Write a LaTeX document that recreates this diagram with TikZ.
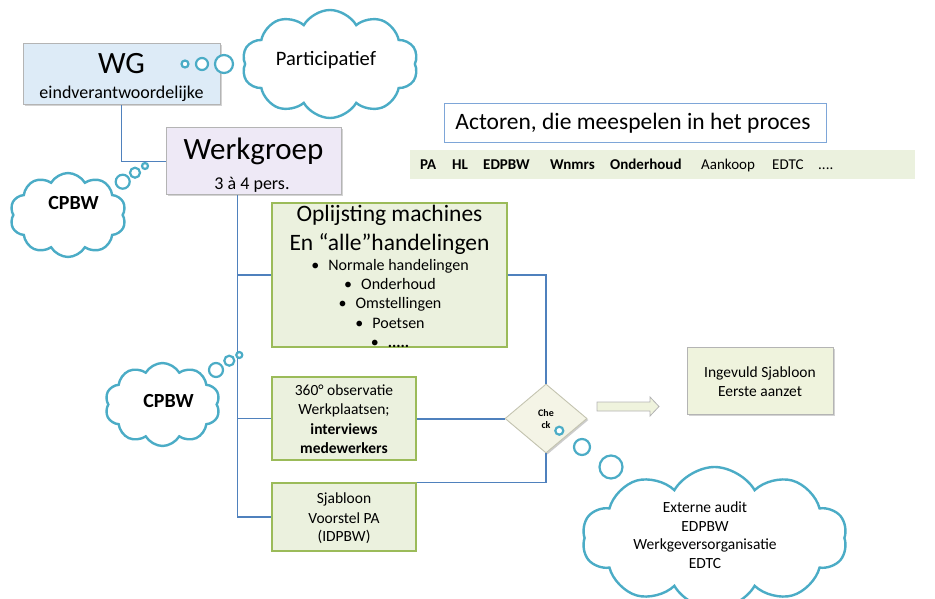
\documentclass[tikz,border=0pt]{standalone}
\usepackage{fontspec}
\setmainfont{Carlito}
\usetikzlibrary{shapes.geometric,shapes.symbols,shadows,calc}
\definecolor{conncol}{HTML}{4F81BD}
\definecolor{cloudcol}{HTML}{4BACC6}
\definecolor{wgfill}{HTML}{DDEBF7}
\definecolor{wgrfill}{HTML}{EEE9F6}
\definecolor{grfill}{HTML}{EBF1DE}
\definecolor{grdraw}{HTML}{9BBB59}
\definecolor{actdraw}{HTML}{7EA6D8}
\definecolor{boxgray}{HTML}{B4B4B4}
\definecolor{creamfill}{HTML}{EFF3DD}
\definecolor{dmfill}{HTML}{F4F4E6}
\definecolor{dmdraw}{HTML}{C4C4B0}
\newcommand\myfs[1]{\fontsize{#1}{#1}\selectfont}
\begin{document}
\begin{tikzpicture}[x=1pt,y=-1pt,
  conn/.style={draw=conncol, line width=1.1pt},
  cloudst/.style={cloud, cloud puffs=10, cloud puff arc=120, cloud ignores aspect, draw=cloudcol, line width=2.4pt, fill=white, inner sep=0pt},
  bub/.style={circle, draw=cloudcol, line width=2.2pt, fill=white, inner sep=0pt},
  gbox/.style={draw=grdraw, line width=1.1pt, fill=grfill, inner sep=0pt},
  bevbox/.style={draw=boxgray, line width=1pt, inner sep=0pt, drop shadow={opacity=0.35, shadow xshift=1.5pt, shadow yshift=-1.5pt}},
  txt/.style={inner sep=0pt, anchor=base},
  txtw/.style={inner sep=0pt, anchor=base west, font=\myfs{15}}]
\useasboundingbox (0,0) rectangle (935,599);

% boxes
\node[bevbox, fill=wgfill, minimum width=197pt, minimum height=61pt] (wg) at (121.5,74.5) {};
\node[bevbox, fill=wgrfill, minimum width=175pt, minimum height=67pt] (wgr) at (253.5,161.5) {};
\node[gbox, minimum width=235pt, minimum height=144pt] (opl) at (389.5,275) {};
\node[gbox, minimum width=144pt, minimum height=83pt] (obs) at (344,418.5) {};
\node[gbox, minimum width=144pt, minimum height=68pt] (sja) at (344,517) {};
\node[bevbox, fill=creamfill, minimum width=146pt, minimum height=67pt] (ing) at (760,380.5) {};
\node[draw=actdraw, line width=1pt, fill=white, minimum width=382pt, minimum height=39pt, inner sep=0pt] (act) at (635,123.5) {};
\node[fill=grfill, minimum width=505pt, minimum height=29pt, inner sep=0pt] (band) at (662.5,164.5) {};
\node[diamond, draw=dmdraw, line width=0.9pt, fill=dmfill, minimum width=82pt, minimum height=69pt, inner sep=0pt, drop shadow={opacity=0.4, shadow xshift=1.5pt, shadow yshift=-1.5pt}] (chk) at (546,418.5) {};

% connectors
\draw[conn] (wg.south) |- (wgr.west);
\draw[conn] ([xshift=-16pt]wgr.south) |- (opl.west);
\draw[conn] ([xshift=-16pt]wgr.south) |- (obs.west);
\draw[conn] ([xshift=-16pt]wgr.south) |- (sja.west);
\draw[conn] (opl.east) -| (chk.north);
\draw[conn, line width=2pt] (obs.east) -- (chk.west);
\draw[conn] (sja.north east) -| (chk.south);

% block arrow
\draw[draw=boxgray, line width=0.8pt, fill=creamfill] (597,402) -- (650,402) -- (650,397) -- (659,406.5) -- (650,416) -- (650,411) -- (597,411) -- cycle;

% clouds
\node[cloudst, minimum width=176pt, minimum height=108pt] (cpart) at (330,64) {};
\node[cloudst, minimum width=116pt, minimum height=84pt] (ccp1) at (68,215) {};
\node[cloudst, minimum width=115pt, minimum height=83pt] (ccp2) at (162.5,404.5) {};
\node[cloudst, minimum width=265pt, minimum height=142pt] (cext) at (714.5,538) {};

% thought bubbles
\node[bub, minimum size=7pt] (pb1) at (185,64) {};
\node[bub, minimum size=12pt] (pb2) at (202,64) {};
\node[bub, minimum size=18pt] (pb3) at (224,64) {};
\node[bub, minimum size=14pt] (ab1) at (122.7,181.7) {};
\node[bub, minimum size=10pt] (ab2) at (135,172.7) {};
\node[bub, minimum size=6pt] (ab3) at (145,166) {};
\node[bub, minimum size=14pt] (bb1) at (216,370) {};
\node[bub, minimum size=10pt] (bb2) at (229.3,360.7) {};
\node[bub, minimum size=6pt] (bb3) at (239.3,355) {};
\node[bub, minimum size=8pt] (cb1) at (559.3,430.7) {};
\node[bub, minimum size=16pt] (cb2) at (582,447) {};
\node[bub, minimum size=23pt] (cb3) at (611,467) {};

% texts
\node[txt, font=\myfs{31}] (twg) at (121.5,74) {WG};
\node[txt, font=\myfs{18}] (twg2) at (121.5,99) {eindverantwoordelijke};
\node[txt, font=\myfs{31}] (twr) at (253.5,160) {Werkgroep};
\node[txt, font=\myfs{18}] (twr2) at (252,189.5) {3 à 4 pers.};
\node[txt, font=\myfs{20.5}] (tpart) at (326,66) {Participatief};
\node[txt, font=\myfs{20}\bfseries] (tcp1) at (73.5,210) {CPBW};
\node[txt, font=\myfs{20}\bfseries] (tcp2) at (168.5,407) {CPBW};

\node[txt, font=\myfs{23.5}] (to1) at (389.5,222) {Oplijsting machines};
\node[txt, font=\myfs{23.5}] (to2) at (389.5,250) {En “alle”handelingen};
\node[txt, font=\myfs{16}] (tb1) at (390,270) {\textbullet\hspace{9pt}Normale handelingen};
\node[txt, font=\myfs{16}] (tb2) at (390,289) {\textbullet\hspace{9pt}Onderhoud};
\node[txt, font=\myfs{16}] (tb3) at (390,308) {\textbullet\hspace{9pt}Omstellingen};
\node[txt, font=\myfs{16}] (tb4) at (390,328) {\textbullet\hspace{9pt}Poetsen};
\node[txt, font=\myfs{16}] (tb5) at (390,347) {\textbullet\hspace{9pt}\textbf{.....}};

\node[txt, font=\myfs{15.5}] (ts1) at (344,395) {360° observatie};
\node[txt, font=\myfs{15.5}] (ts2) at (344,414) {Werkplaatsen;};
\node[txt, font=\myfs{15.5}\bfseries] (ts3) at (344,434) {interviews};
\node[txt, font=\myfs{15.5}\bfseries] (ts4) at (344,453) {medewerkers};

\node[txt, font=\myfs{15.5}] (tj1) at (344,503) {Sjabloon};
\node[txt, font=\myfs{15.5}] (tj2) at (344,523) {Voorstel PA};
\node[txt, font=\myfs{15.5}] (tj3) at (344,541) {(IDPBW)};

\node[txt, font=\myfs{15.5}] (ti1) at (760,377) {Ingevuld Sjabloon};
\node[txt, font=\myfs{15.5}] (ti2) at (760,396) {Eerste aanzet};

\node[txt, font=\myfs{15.5}] (te1) at (705,512) {Externe audit};
\node[txt, font=\myfs{15.5}] (te2) at (705,531) {EDPBW};
\node[txt, font=\myfs{15.5}] (te3) at (705,549) {Werkgeversorganisatie};
\node[txt, font=\myfs{15.5}] (te4) at (705,568) {EDTC};

\node[txt, font=\myfs{10}\bfseries] (tc1) at (546,416) {Che};
\node[txt, font=\myfs{10}\bfseries] (tc2) at (546,428) {ck};

\node[txt, font=\myfs{23.5}] (tact) at (633,130) {Actoren, die meespelen in het proces};
\node[txtw, font=\myfs{15}\bfseries] (a1) at (420,170) {PA};
\node[txtw, font=\myfs{15}\bfseries] (a2) at (452,170) {HL};
\node[txtw, font=\myfs{15}\bfseries] (a3) at (483,170) {EDPBW};
\node[txtw, font=\myfs{15}\bfseries] (a4) at (550,170) {Wnmrs};
\node[txtw, font=\myfs{15}\bfseries] (a5) at (610,170) {Onderhoud};
\node[txtw] (a6) at (701,170) {Aankoop};
\node[txtw] (a7) at (772,170) {EDTC};
\node[txtw] (a8) at (818,170) {....};
\end{tikzpicture}
\end{document}
